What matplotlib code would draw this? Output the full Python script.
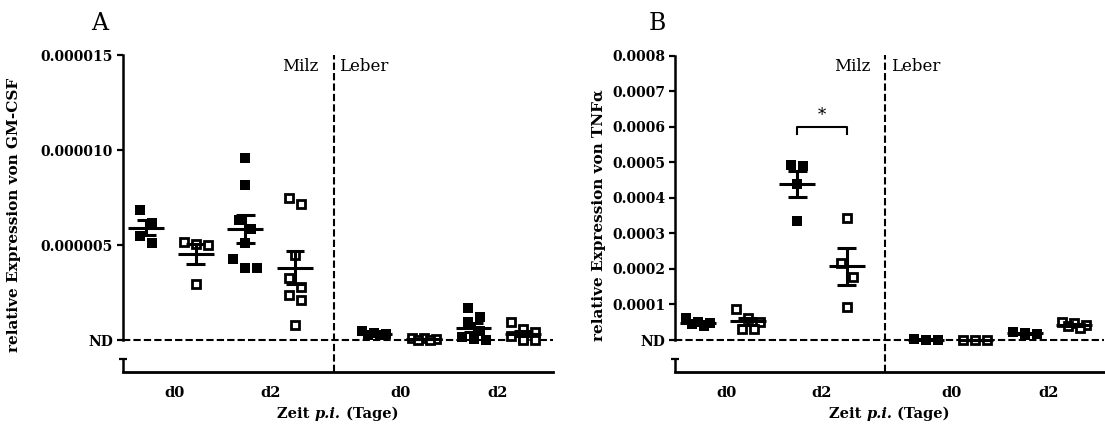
import numpy as np
import matplotlib
matplotlib.use('Agg')
import matplotlib.pyplot as plt
from matplotlib.transforms import blended_transform_factory

plt.rcParams['font.family'] = 'DejaVu Serif'

# ---------------- data ----------------
panel_labels = ['A', 'B']
organ_labels = ['Milz', 'Leber']
day_labels = ['d0', 'd2', 'd0', 'd2']
ylabels = ['relative Expression von GM-CSF', 'relative Expression von TNFα']
xlabel_parts = ['Zeit ', 'p.i.', ' (Tage)']
xlabel_styles = ['normal', 'italic', 'normal']

# GM-CSF, values in units of 1e-6
gm_unit = 1e-6
gm_milz_d0_filled = [6.88, 6.19, 5.47, 5.09]
gm_milz_d0_open = [5.15, 5.05, 5.00, 2.93]
gm_milz_d2_filled = [9.62, 8.19, 6.35, 5.83, 5.09, 4.25, 3.77, 3.77]
gm_milz_d2_open = [7.51, 7.19, 4.47, 3.25, 2.81, 2.37, 2.10, 0.79]
gm_leber_d0_filled = [0.45, 0.38, 0.32, 0.28, 0.25]
gm_leber_d0_open = [0.12, 0.08, 0.05, 0.02, 0.00]
gm_leber_d2_filled = [1.70, 1.20, 0.95, 0.50, 0.15, 0.05, 0.00]
gm_leber_d2_open = [0.95, 0.60, 0.40, 0.20, 0.10, 0.00, 0.00]
gm_yticks = [0, 5, 10, 15]
gm_yticklabels = ['ND', '0.000005', '0.000010', '0.000015']

# TNF-alpha, values in units of 1e-4
tnf_unit = 1e-4
tnf_milz_d0_filled = [0.62, 0.50, 0.47, 0.45, 0.38]
tnf_milz_d0_open = [0.88, 0.62, 0.50, 0.32, 0.30]
tnf_milz_d2_filled = [4.91, 4.88, 4.39, 3.35]
tnf_milz_d2_open = [3.43, 2.16, 1.78, 0.94]
tnf_leber_d0_filled = [0.02, 0.01, 0.00]
tnf_leber_d0_open = [0.00, 0.00, 0.00]
tnf_leber_d2_filled = [0.22, 0.20, 0.18, 0.15]
tnf_leber_d2_open = [0.50, 0.48, 0.42, 0.40, 0.35]
tnf_yticks = [0, 1, 2, 3, 4, 5, 6, 7, 8]
tnf_yticklabels = ['ND', '0.0001', '0.0002', '0.0003', '0.0004',
                   '0.0005', '0.0006', '0.0007', '0.0008']

gm_groups = [gm_milz_d0_filled, gm_milz_d0_open, gm_milz_d2_filled, gm_milz_d2_open,
             gm_leber_d0_filled, gm_leber_d0_open, gm_leber_d2_filled, gm_leber_d2_open]
tnf_groups = [tnf_milz_d0_filled, tnf_milz_d0_open, tnf_milz_d2_filled, tnf_milz_d2_open,
              tnf_leber_d0_filled, tnf_leber_d0_open, tnf_leber_d2_filled, tnf_leber_d2_open]
filled_flags = [True, False, True, False, True, False, True, False]

# ---------------- layout ----------------
W, H = 1105, 425
fig = plt.figure(figsize=(W / 100, H / 100), dpi=100)
renderer = fig.canvas.get_renderer()


def rect(l, r, t, b):
    return [l / W, 1 - b / H, (r - l) / W, (b - t) / H]


TOP_PX, ND_PX, BOT_PX, SEG_PX = 55.5, 340, 372, 359
xpos = np.array([1, 2, 3, 4, 5.6, 6.6, 7.6, 8.6])
xdiv = 4.78
xtick_pos = [1.58, 3.5, 6.12, 8.08]
XMIN, XMAX = 0.53, 9.2

axes_px = [(122.8, 553), (675, 1104)]
ylabel_x = [14, 599]
letter_x = [100, 657]
XLABEL_Y = 414

dash = (0, (3.5, 1.5))


def row_spread(vals, ppx, ppy, bin_px=14.0, step_px=12.0, max_row=3):
    """Scatter-dot spreading: points within one bin height share a centred row."""
    vals = np.asarray(vals, float)
    order = list(np.argsort(-vals))
    offs = np.zeros(len(vals))
    rows = []
    cur = []
    for i in order:
        if cur and ((vals[cur[0]] - vals[i]) * ppy < bin_px) and len(cur) < max_row:
            cur.append(i)
        else:
            if cur:
                rows.append(cur)
            cur = [i]
    if cur:
        rows.append(cur)
    for row in rows:
        n = len(row)
        for k, i in enumerate(row):
            offs[i] = (k - (n - 1) / 2) * step_px / ppx
    return offs


def mixed_label(xc_px, y_px):
    texts = [fig.text(0, 0, s, fontsize=10.5, fontweight='bold', fontstyle=st,
                      ha='left', va='center')
             for s, st in zip(xlabel_parts, xlabel_styles)]
    widths = [t.get_window_extent(renderer).width for t in texts]
    x = xc_px - sum(widths) / 2
    for t, w in zip(texts, widths):
        t.set_position((x / W, 1 - y_px / H))
        x += w


panels = [
    (gm_groups, gm_unit, gm_yticks, gm_yticklabels),
    (tnf_groups, tnf_unit, tnf_yticks, tnf_yticklabels),
]

for p, (groups, unit, yt, ytl) in enumerate(panels):
    l, r = axes_px[p]
    ax = fig.add_axes(rect(l, r, TOP_PX, BOT_PX))
    ymax = yt[-1] * unit
    ymin = -(BOT_PX - ND_PX) / (ND_PX - TOP_PX) * ymax
    yseg = -(SEG_PX - ND_PX) / (ND_PX - TOP_PX) * ymax
    ax.set_xlim(XMIN, XMAX)
    ax.set_ylim(ymin, ymax)
    ppx = (r - l) / (XMAX - XMIN)
    ppy = (BOT_PX - TOP_PX) / (ymax - ymin)

    for s in ['top', 'right']:
        ax.spines[s].set_visible(False)
    ax.spines['left'].set_bounds(0, ymax)
    ax.spines['left'].set_linewidth(1.8)
    ax.spines['bottom'].set_linewidth(2.0)

    # broken lower axis piece
    ax.plot([XMIN, XMIN], [ymin, yseg], color='black', lw=1.8,
            clip_on=False, solid_capstyle='butt', zorder=5)
    ax.plot([XMIN - 4 / ppx, XMIN + 4 / ppx], [yseg, yseg], color='black', lw=1.6,
            clip_on=False, solid_capstyle='butt', zorder=5)

    ax.set_yticks([v * unit for v in yt])
    ax.set_yticklabels(ytl)
    ax.tick_params(axis='y', direction='out', length=4, width=1.6,
                   labelsize=10, pad=3)
    for t in ax.get_yticklabels():
        t.set_fontweight('bold')

    ax.set_xticks(xtick_pos)
    ax.set_xticklabels(day_labels)
    ax.tick_params(axis='x', length=0, labelsize=10.5, pad=10)
    for t in ax.get_xticklabels():
        t.set_fontweight('bold')

    # dashed ND line and organ divider
    ax.axhline(0, color='black', lw=1.5, ls=dash, zorder=1)
    ax.axvline(xdiv, color='black', lw=1.5, ls=dash, zorder=1)

    tr = blended_transform_factory(ax.transData, ax.transAxes)
    ax.text(xdiv - 0.3, 0.964, organ_labels[0], transform=tr, ha='right',
            va='center', fontsize=12)
    ax.text(xdiv + 0.11, 0.964, organ_labels[1], transform=tr, ha='left',
            va='center', fontsize=12)

    for g, vals in enumerate(groups):
        v = np.asarray(vals, float) * unit
        offs = row_spread(v, ppx, ppy)
        if filled_flags[g]:
            ax.plot(xpos[g] + offs, v, ls='none', marker='s', ms=7, mew=0,
                    mfc='black', zorder=3, clip_on=False)
        else:
            ax.plot(xpos[g] + offs, v, ls='none', marker='s', ms=5.2, mew=2.0,
                    mfc='white', mec='black', zorder=3, clip_on=False)
        m = v.mean()
        sem = v.std(ddof=1) / np.sqrt(len(v))
        ax.plot([xpos[g] - 0.36, xpos[g] + 0.36], [m, m], color='black', lw=2.2,
                solid_capstyle='butt', zorder=4)
        ax.plot([xpos[g], xpos[g]], [m - sem, m + sem], color='black', lw=2.2,
                solid_capstyle='butt', zorder=4)
        for yy in (m - sem, m + sem):
            ax.plot([xpos[g] - 0.19, xpos[g] + 0.19], [yy, yy], color='black',
                    lw=2.2, solid_capstyle='butt', zorder=4)

    if p == 1:
        yb = 6.0 * unit
        ytip = 5.8 * unit
        ax.plot([xpos[2], xpos[2], xpos[3], xpos[3]], [ytip, yb, yb, ytip],
                color='black', lw=1.5, zorder=4)
        ax.text((xpos[2] + xpos[3]) / 2, 6.3 * unit, '*', ha='center',
                va='center', fontsize=12)

    mixed_label((l + r) / 2, XLABEL_Y)
    fig.text(ylabel_x[p] / W, 1 - 215 / H, ylabels[p], rotation=90, ha='center',
             va='center', fontsize=11, fontweight='bold')
    fig.text(letter_x[p] / W, 1 - 23 / H, panel_labels[p], ha='center',
             va='center', fontsize=17)

fig.savefig('out.png', dpi=100)
